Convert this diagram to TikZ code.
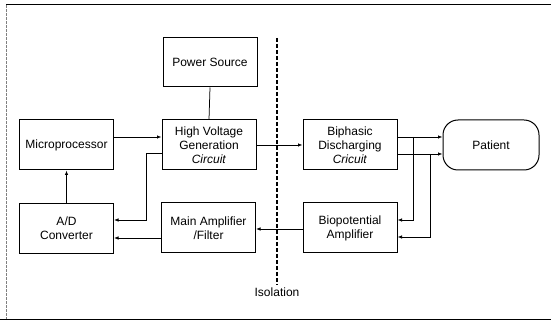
\documentclass[tikz,border=0pt]{standalone}
\usepackage{fontspec}
\setmainfont{Liberation Sans}
\usetikzlibrary{arrows.meta}
\begin{document}
\begin{tikzpicture}[x=1pt,y=-1pt,
  blk/.style={draw, line width=1pt, rectangle, inner sep=0pt, align=center,
    minimum width=94pt, minimum height=50pt, font=\fontsize{12}{14}\selectfont},
  conn/.style={line width=0.75pt},
  arr/.style={conn, -{Latex[length=4.5pt,width=3.5pt]}},
  frame/.style={line width=1pt}]
\useasboundingbox (0,0) rectangle (551,320);
% frame
\draw[frame] (6,5) -- (551,5);
\draw[frame] (0,319) -- (551,319);
\draw[line width=0.6pt, gray, dash pattern=on 3pt off 1pt] (6,5) -- (6,319);
% blocks
\node[blk, minimum height=49pt] (ps) at (210,62.5) {Power Source};
\node[blk] (hv) at (209,145) {High Voltage\\Generation\\\textit{Circuit}};
\node[blk] (mp) at (66.5,145) {Microprocessor};
\node[blk] (ad) at (66.5,228.5) {A/D\\Converter};
\node[blk] (ma) at (208.5,228) {Main Amplifier\\/Filter};
\node[blk] (bi) at (350,145) {Biphasic\\Discharging\\\textit{Cricuit}};
\node[blk] (bp) at (350,228) {Biopotential\\Amplifier};
\node[blk, minimum width=96pt, rounded corners=15pt] (pt) at (491,145) {Patient};
% isolation line
\coordinate (isoT) at (277,38);
\coordinate (isoB) at (277,285);
\draw[line width=1.3pt, dash pattern=on 4pt off 2pt] (isoT) -- (isoB);
\node[font=\fontsize{12}{14}\selectfont, anchor=north, inner sep=1pt] (iso) at (277,287) {Isolation};
% connectors
\draw[conn] (ps.south) -- (hv.north);
\draw[arr] ([yshift=8pt]mp.east) -- ([yshift=8pt]hv.west);
\draw[arr] (hv.east) -- (bi.west);
\draw[arr] ([yshift=-8pt]hv.west) -- ++(-15,0) |- ([yshift=8.5pt]ad.east);
\draw[arr] ([yshift=-10pt]ma.west) -- ([yshift=-10pt]ma.west -| ad.east);
\draw[arr] (ad.north) -- (mp.south);
\draw[arr] ([yshift=-1pt]bp.west) -- ([yshift=-1pt]bp.west -| ma.east);
\draw[arr] ([yshift=8pt]bi.east) -- ([yshift=8pt]bi.east -| pt.west);
\draw[arr] ([yshift=-9pt]bi.east) -- ([yshift=-9pt]bi.east -| pt.west);
\coordinate (j1) at (413,137);
\coordinate (j2) at (430,154);
\draw[arr] (j1) |- ([yshift=8pt]bp.east);
\draw[arr] (j2) |- ([yshift=-9pt]bp.east);
\end{tikzpicture}
\end{document}
